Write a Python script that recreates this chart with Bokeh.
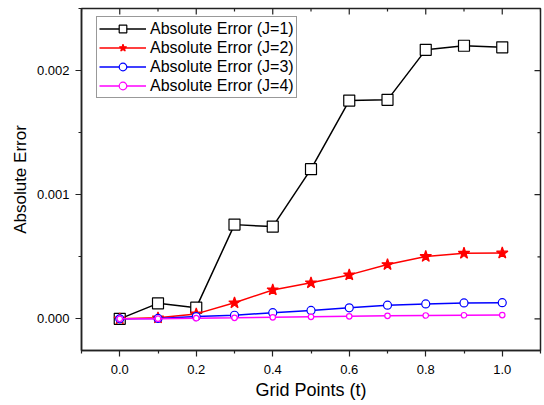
import math
from bokeh.plotting import figure
from bokeh.models import FixedTicker, Range1d, Legend, LegendItem
from bokeh.embed import file_html
from bokeh.resources import INLINE

# ---- data ----
t = [0.0, 0.1, 0.2, 0.3, 0.4, 0.5, 0.6, 0.7, 0.8, 0.9, 1.0]
err_j1 = [0.0, 0.000125, 0.000090, 0.000759, 0.000743, 0.001206, 0.001758,
          0.001764, 0.002167, 0.002200, 0.002187]
err_j2 = [0.0, 0.000008, 0.000040, 0.000129, 0.000233, 0.000290, 0.000354,
          0.000437, 0.000502, 0.000528, 0.000530]
err_j3 = [0.0, 0.000003, 0.000018, 0.000029, 0.000050, 0.000068, 0.000089,
          0.000110, 0.000120, 0.000128, 0.000130]
err_j4 = [0.0, 0.000001, 0.000005, 0.000008, 0.000012, 0.000016, 0.000020,
          0.000024, 0.000027, 0.000029, 0.000030]
series_labels = ["Absolute Error (J=1)", "Absolute Error (J=2)",
                 "Absolute Error (J=3)", "Absolute Error (J=4)"]
x_ticks = [0.0, 0.2, 0.4, 0.6, 0.8, 1.0]
x_tick_labels = ["0.0", "0.2", "0.4", "0.6", "0.8", "1.0"]
x_minor = [-0.1, 0.1, 0.3, 0.5, 0.7, 0.9, 1.1]
y_ticks = [0.0, 0.001, 0.002]
y_tick_labels = ["0.000", "0.001", "0.002"]
y_minor = [0.0005, 0.0015, 0.0025]
x_lo, x_hi = -0.1, 1.1
y_lo, y_hi = -0.000255, 0.0025

FONT = "Liberation Sans"
AX = "#222222"

p = figure(width=544, height=405, output_backend="svg", toolbar_location=None,
           x_range=Range1d(x_lo, x_hi), y_range=Range1d(y_lo, y_hi),
           min_border_left=81, min_border_right=4, min_border_top=8,
           min_border_bottom=55, x_axis_label="Grid Points (t)",
           y_axis_label="Absolute Error")
p.xgrid.visible = False
p.ygrid.visible = False
p.outline_line_color = AX
p.outline_line_width = 1.5
p.background_fill_color = "white"
p.border_fill_color = "white"

xt = FixedTicker(ticks=x_ticks, minor_ticks=x_minor)
yt = FixedTicker(ticks=y_ticks, minor_ticks=y_minor)

for ax in p.xaxis:
    ax.ticker = xt
    ax.major_label_overrides = dict(zip(x_ticks, x_tick_labels))
    ax.major_label_standoff = 8
    ax.axis_label_standoff = 3
    ax.axis_label_text_font_size = "18px"
for ax in p.yaxis:
    ax.ticker = yt
    ax.major_label_overrides = dict(zip(y_ticks, y_tick_labels))
    ax.major_label_standoff = 6
    ax.axis_label_standoff = 4
    ax.axis_label_text_font_size = "17px"

for ax in list(p.xaxis) + list(p.yaxis):
    ax.axis_line_color = AX
    ax.axis_line_width = 1.5
    ax.major_tick_line_color = AX
    ax.minor_tick_line_color = AX
    ax.major_tick_line_width = 1.2
    ax.minor_tick_line_width = 1.2
    ax.major_tick_out = 6
    ax.major_tick_in = 0
    ax.minor_tick_out = 3
    ax.minor_tick_in = 0
    ax.major_label_text_font = FONT
    ax.major_label_text_font_size = "13px"
    ax.major_label_text_color = "black"
    ax.axis_label_text_font = FONT
    ax.axis_label_text_font_style = "normal"
    ax.axis_label_text_color = "black"

# mirrored inward ticks on the top and right frame edges (clipped to frame)
p.scatter(x_ticks, [y_hi] * len(x_ticks), marker="dash", angle=math.pi / 2,
          size=12, line_color=AX, line_width=1.2)
p.scatter(x_minor, [y_hi] * len(x_minor), marker="dash", angle=math.pi / 2,
          size=6, line_color=AX, line_width=1.2)
p.scatter([x_hi] * len(y_ticks), y_ticks, marker="dash", size=12,
          line_color=AX, line_width=1.2)
p.scatter([x_hi] * len(y_minor), y_minor, marker="dash", size=6,
          line_color=AX, line_width=1.2)

styles = [
    dict(color="black", marker="square", size=11, fill="white"),
    dict(color="#ff0000", marker="star", size=12, fill="#ff0000"),
    dict(color="#0000ff", marker="circle", size=8, fill="white"),
    dict(color="#ff00ff", marker="circle", size=5.5, fill="white"),
]
items = []
for ys, st, lab in zip([err_j1, err_j2, err_j3, err_j4], styles, series_labels):
    ln = p.line(t, ys, line_color=st["color"], line_width=1.5)
    sc = p.scatter(t, ys, marker=st["marker"], size=st["size"],
                   line_color=st["color"], fill_color=st["fill"], line_width=1.2)
    items.append(LegendItem(label=lab, renderers=[ln, sc]))

legend = Legend(items=items, location=(15, 252), padding=2, spacing=0,
                glyph_width=47, glyph_height=19, label_height=19,
                label_standoff=4, label_text_font=FONT,
                label_text_font_size="16px", label_text_color="black",
                border_line_color="#333333", border_line_width=1,
                background_fill_color="white", background_fill_alpha=1)
p.add_layout(legend, "center")

open("out.html", "w").write(file_html(p, INLINE))
